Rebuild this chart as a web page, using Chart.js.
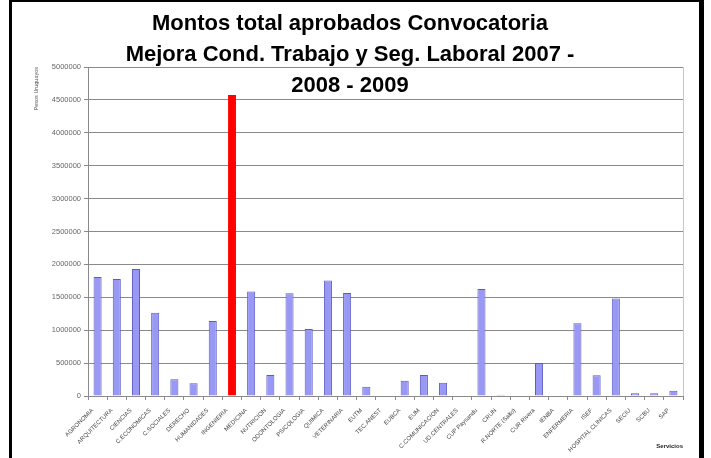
<!DOCTYPE html>
<html lang="es">
<head>
    <meta charset="UTF-8">
    <title>Montos total aprobados Convocatoria</title>
    <script src="https://cdn.jsdelivr.net/npm/chart.js"></script>
    <style>
        body {
            margin: 0;
            background: #fff;
            font-family: "Liberation Sans", Arial, sans-serif;
        }
        #wrap {
            position: relative;
            width: 711px;
            height: 458px;
        }
        #frame {
            position: absolute;
            left: 9px;
            top: 0;
            width: 687px;
            height: 470px;
            border-left: 3px solid #000;
            border-top: 2px solid #000;
            border-right: 5px solid #000;
            pointer-events: none;
        }
    </style>
</head>
<body>
    <div id="wrap">
        <canvas id="montosChart"></canvas>
        <div id="frame"></div>
    </div>

    <script>
        // datos
        const servicios = [
            'AGRONOMIA', 'ARQUITECTURA', 'CIENCIAS', 'C.ECONOMICAS', 'C.SOCIALES',
            'DERECHO', 'HUMANIDADES', 'INGENIERIA', 'MEDICINA', 'NUTRICION',
            'ODONTOLOGIA', 'PSICOLOGIA', 'QUIMICA', 'VETERINARIA', 'EUTM',
            'TEC.ANEST', 'EUBCA', 'EUM', 'C.COMUNICACION', 'UD.CENTRALES',
            'CUP Paysandu', 'CRUN', 'R.NORTE (Salto)', 'CUR Rivera', 'IENBA',
            'ENFERMERIA', 'ISEF', 'HOSPITAL CLINICAS', 'SECIU', 'SCBU', 'SAP'
        ];
        const montos = [
            1810000, 1780000, 1930000, 1265000, 255000,
            195000, 1140000, 4575000, 1590000, 320000,
            1560000, 1020000, 1755000, 1565000, 140000,
            0, 230000, 320000, 200000, 0,
            1625000, 20000, 0, 500000, 0,
            1105000, 315000, 1480000, 40000, 40000, 80000
        ];
        const destacado = 'INGENIERIA';
        const tituloLineas = [
            'Montos total aprobados Convocatoria',
            'Mejora Cond. Trabajo y Seg. Laboral 2007 -',
            '2008 - 2009'
        ];
        const yMax = 5000000;
        const yPaso = 500000;

        const colores = servicios.map(s => s === destacado ? '#ff0000' : '#9999f5');
        const bordes = servicios.map(s => s === destacado ? '#ff0000' : '#5c5cc0');

        // titulo flotante encima del area del grafico (como en Excel) + marco del area
        const tituloPlugin = {
            id: 'tituloPlugin',
            beforeDraw(chart) {
                const ctx = chart.ctx;
                ctx.save();
                ctx.fillStyle = '#fff';
                ctx.fillRect(0, 0, chart.width, chart.height);
                ctx.restore();
            },
            afterDraw(chart) {
                const ctx = chart.ctx;
                const a = chart.chartArea;
                ctx.save();
                ctx.strokeStyle = '#c8c8c8';
                ctx.lineWidth = 1;
                ctx.beginPath();
                ctx.moveTo(a.right + 0.5, a.top);
                ctx.lineTo(a.right + 0.5, a.bottom);
                ctx.stroke();
                ctx.fillStyle = '#000';
                ctx.font = 'bold 22px "Liberation Sans", Arial, sans-serif';
                ctx.textAlign = 'center';
                ctx.textBaseline = 'alphabetic';
                tituloLineas.forEach((t, i) => {
                    ctx.fillText(t, 350, 30 + i * 31);
                });
                ctx.restore();
            }
        };

        const ctx = document.getElementById('montosChart').getContext('2d');
        const chart = new Chart(ctx, {
            type: 'bar',
            data: {
                labels: servicios,
                datasets: [{
                    label: 'Pesos Uruguayos',
                    data: montos,
                    backgroundColor: colores,
                    borderColor: bordes,
                    borderWidth: 1,
                    barPercentage: 0.42,
                    categoryPercentage: 1
                }]
            },
            options: {
                responsive: true,
                maintainAspectRatio: false,
                animation: false,
                layout: {
                    padding: { top: 67, right: 28, bottom: 0, left: 0 }
                },
                plugins: {
                    legend: { display: false },
                    title: { display: false },
                    tooltip: { enabled: false }
                },
                scales: {
                    x: {
                        grid: {
                            display: true,
                            drawOnChartArea: false,
                            color: '#8a8a8a',
                            tickLength: 4
                        },
                        border: { color: '#8a8a8a' },
                        ticks: {
                            autoSkip: false,
                            minRotation: 45,
                            maxRotation: 45,
                            padding: 7,
                            labelOffset: -5,
                            color: '#444',
                            font: { size: 6, family: '"Liberation Sans", Arial' }
                        },
                        title: {
                            display: true,
                            text: 'Servicios',
                            align: 'end',
                            color: '#222',
                            padding: { top: 0, bottom: 8 },
                            font: { size: 6, weight: 'bold', family: '"Liberation Sans", Arial' }
                        },
                        afterFit(scale) { scale.height = 62; }
                    },
                    y: {
                        min: 0,
                        max: yMax,
                        grid: {
                            color: '#8a8a8a',
                            tickLength: 4
                        },
                        border: { color: '#8a8a8a' },
                        ticks: {
                            stepSize: yPaso,
                            padding: 3,
                            color: '#666',
                            font: { size: 7.5, family: '"Liberation Sans", Arial' },
                            callback: v => String(v)
                        },
                        title: {
                            display: true,
                            text: 'Pesos Uruguayos',
                            align: 'end',
                            color: '#555',
                            padding: { top: 33, bottom: 0 },
                            font: { size: 5.5, family: '"Liberation Sans", Arial' }
                        },
                        afterFit(scale) { scale.width = 88; }
                    }
                }
            },
            plugins: [tituloPlugin]
        });
    </script>
</body>
</html>
